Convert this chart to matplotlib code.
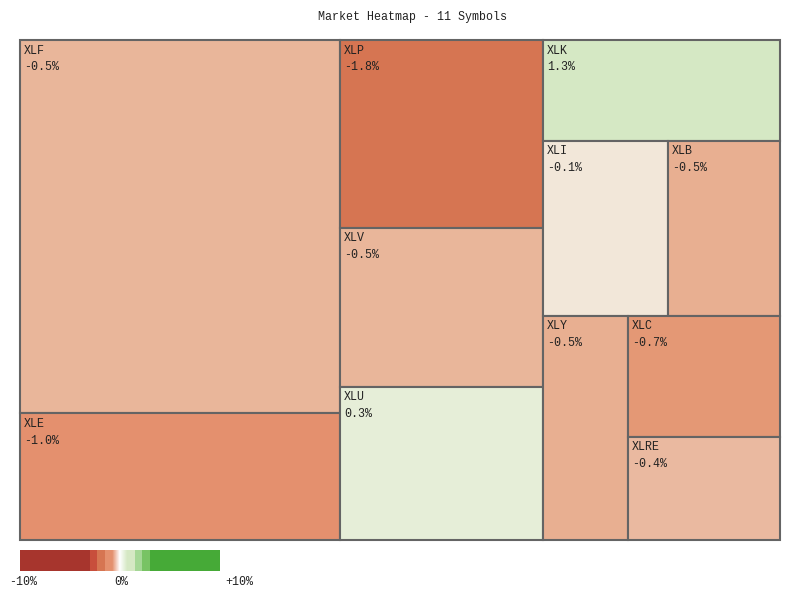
import numpy as np
import matplotlib.pyplot as plt
from matplotlib.patches import Rectangle
from matplotlib.colors import to_rgb

# data
symbols = ['XLF', 'XLE', 'XLP', 'XLV', 'XLU', 'XLK', 'XLI', 'XLB', 'XLY', 'XLC', 'XLRE']
weights = [119.4, 40.6, 38.2, 32.3, 31.1, 23.9, 21.9, 19.6, 19.0, 18.4, 15.7]
changes = [-0.48, -1.0, -1.8, -0.48, 0.3, 1.3, -0.1, -0.54, -0.54, -0.7, -0.4]

# grouping of the tiles (alternating split direction per level)
groups = [['XLF', 'XLE'],
          ['XLP', 'XLV', 'XLU'],
          ['XLK', ['XLI', 'XLB'], ['XLY', ['XLC', 'XLRE']]]]

# colour scale for the tiles
stop_vals = [-3.0, -1.8, -1.0, -0.7, -0.54, -0.48, -0.4, -0.1, 0.0, 0.3, 1.3, 2.0, 2.5, 3.0]
stop_cols = ['#A7352D', '#D67552', '#E4906E', '#E49875', '#E8AF91', '#E9B69A', '#EAB9A0',
             '#F2E7D9', '#F5F5EB', '#E6EED8', '#D5E8C4', '#A5D796', '#78C364', '#46AA37']

# legend steps
legend_breaks = [-3.0, -2.25, -1.5, -0.75, 0.75, 1.5, 2.25, 3.0]
legend_cols = ['#A7352D', '#C84E3C', '#D67552', '#E4906E', None, '#D5E8C4', '#A5D796', '#78C364', '#46AA37']
legend_ticks = ['-10%', '0%', '+10%']

weight_of = dict(zip(symbols, weights))
change_of = dict(zip(symbols, changes))


def node_weight(node):
    if isinstance(node, str):
        return weight_of[node]
    return sum(node_weight(c) for c in node)


def tile_color(v):
    rgb = np.array([to_rgb(c) for c in stop_cols])
    return tuple(np.interp(v, stop_vals, rgb[:, k]) for k in range(3))


def legend_color(v):
    i = np.digitize(v, legend_breaks)
    if legend_cols[i] is not None:
        return to_rgb(legend_cols[i])
    lo, hi = np.array(to_rgb('#E4906E')), np.array(to_rgb('#D5E8C4'))
    white = np.array([1.0, 1.0, 1.0])
    if v < 0:
        t = (v + 0.75) / 0.75
        return tuple(lo + (white - lo) * t)
    t = v / 0.75
    return tuple(white + (hi - white) * t)


rects = {}


def layout(node, x, y, w, h, depth):
    if isinstance(node, str):
        rects[node] = (x, y, w, h)
        return
    total = node_weight(node)
    off = 0.0
    for child in node:
        frac = node_weight(child) / total
        if depth % 2 == 0:
            layout(child, x + off * w, y, frac * w, h, depth + 1)
        else:
            layout(child, x, y + off * h, w, frac * h, depth + 1)
        off += frac


layout(groups, 20, 40, 760, 500, 0)

fig = plt.figure(figsize=(8, 6), dpi=100)
ax = fig.add_axes([0, 0, 1, 1])
ax.set_xlim(0, 800)
ax.set_ylim(600, 0)
ax.axis('off')

font = 'Liberation Mono'
fs = 8.4
tc = '#222222'

for s in symbols:
    x, y, w, h = rects[s]
    ax.add_patch(Rectangle((x, y), w, h, facecolor=tile_color(change_of[s]),
                           edgecolor='#646464', linewidth=1.5))
    ax.text(x + 4, y + 13.5, s, family=font, fontsize=fs, color=tc, va='baseline')
    ax.text(x + 4, y + 30.5, '%.1f%%' % change_of[s], family=font, fontsize=fs,
            color=tc, va='baseline')

ax.text(412, 20, 'Market Heatmap - 11 Symbols', family=font, fontsize=fs,
        color=tc, ha='center', va='baseline')

# legend bar
lv = np.linspace(-10, 10, 400)
bar = np.array([[legend_color(v) for v in lv]])
ax.imshow(bar, extent=(20, 220, 571, 550), aspect='auto', interpolation='nearest')
for t, xp in zip(legend_ticks, [23.5, 121, 239]):
    ax.text(xp, 585, t, family=font, fontsize=fs, color=tc, ha='center', va='baseline')

ax.set_xlim(0, 800)
ax.set_ylim(600, 0)
plt.savefig('out.png', dpi=100)
